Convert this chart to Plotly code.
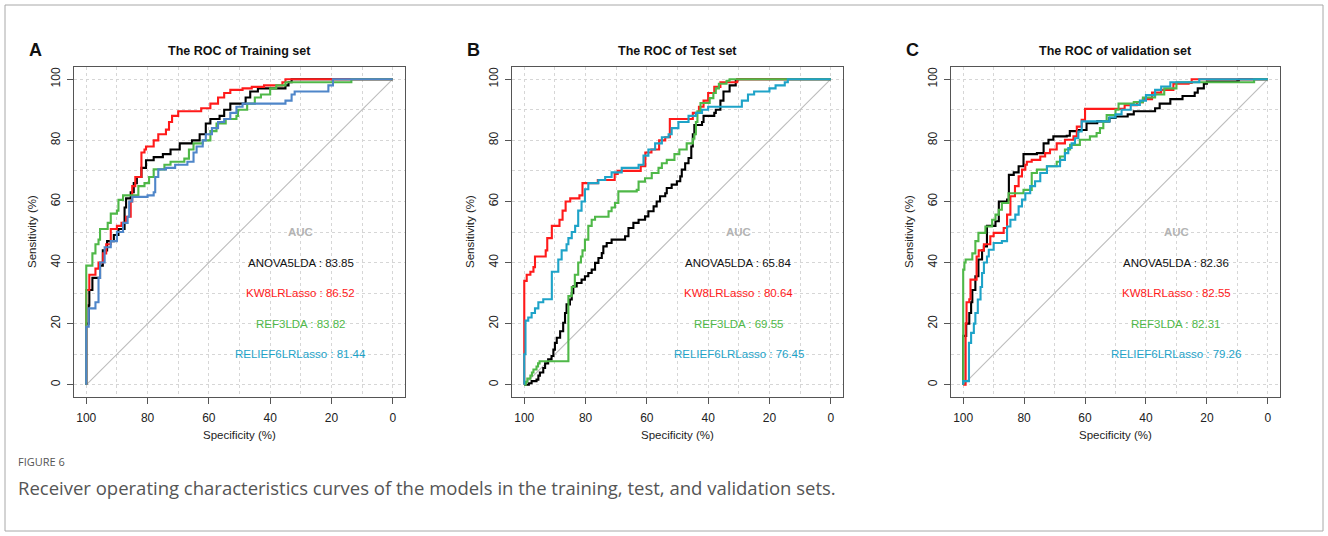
import plotly.graph_objects as go

# ---------------------------------------------------------------------------
# ROC step curves: (specificity %, sensitivity %) corner points
# ---------------------------------------------------------------------------
MODELS = ["ANOVA5LDA", "KW8LRLasso", "REF3LDA", "RELIEF6LRLasso"]

TRAIN_ANOVA = [(100, 0), (100, 20), (99.2, 26), (99, 31), (98, 35), (95.5, 39), (94.6, 44), (93.2, 47),
               (91, 49), (89.5, 51), (87.5, 58), (87, 61), (85.5, 63), (84.5, 66), (83.5, 68), (82, 71),
               (80.5, 73.5), (78, 74.5), (75, 75.5), (72.5, 77), (69.5, 79), (65.5, 80), (63, 82),
               (61, 85.5), (59.5, 87), (56.5, 88), (55, 90), (53, 92), (49, 92), (48, 94), (46.5, 96),
               (44, 97), (36, 97), (35, 98), (34, 99), (33, 100), (0, 100)]
TRAIN_KW = [(100, 0), (100, 31), (99, 36), (97, 38), (96, 40), (94.5, 43), (93.5, 46), (92, 51), (90, 52),
            (88.5, 53), (87, 55), (85.5, 60), (85, 65), (84, 68), (82, 76), (81, 77), (80.5, 78), (78, 80),
            (76.5, 82), (74, 83.5), (73, 86), (72, 88), (70, 89.5), (63.5, 89.5), (62.5, 90.5), (59.5, 92),
            (57, 94), (55, 95.5), (53, 96.5), (49, 97), (46, 97.5), (42, 98), (36, 99), (35, 100), (0, 100)]
TRAIN_REF = [(100, 0), (100, 39), (98, 43), (97, 46), (96, 47.5), (95.5, 51), (93, 53), (92, 56), (90, 57),
             (89.5, 60.5), (88, 62), (84, 62), (83, 65), (81, 66), (79.5, 68), (78, 70.5), (74.5, 72),
             (72.5, 73), (68, 74), (66.5, 77), (65, 79), (62, 80), (59.5, 83), (57.5, 85.5), (54.5, 87),
             (51, 88), (50.5, 90), (47.5, 92), (45, 94), (43, 95), (40, 97), (38, 98), (35, 99), (14, 99),
             (13.5, 100), (0, 100)]
TRAIN_RELIEF = [(100, 0), (100, 19), (99.2, 25), (97, 27), (96, 35), (95.5, 40), (94, 45), (92, 47), (90, 50),
                (88, 53), (86.5, 55), (86, 60), (85, 61.5), (80, 62), (78, 63), (77.5, 68), (76.5, 70.5),
                (74, 71), (71, 72), (67, 73), (65, 76), (64, 78), (62, 80), (61, 82), (59, 84), (57, 86),
                (55, 87), (53, 89), (51, 91), (49, 92), (36, 92), (35, 93), (33, 95), (32, 96), (22, 96),
                (21, 98), (19.5, 100), (0, 100)]

TEST_ANOVA = [(100, 0), (98.5, 0.5), (97.6, 1.2), (96, 1.7), (95.4, 3), (94.9, 4), (93.8, 5.5), (93.2, 7),
              (92.2, 8.3), (91.1, 9.4), (90.5, 11.5), (90, 13.7), (89.4, 15.4), (88.3, 17.5), (87.3, 20.3),
              (86.7, 23.5), (86.2, 26.3), (85.1, 27.9), (84.5, 30), (84, 32.2), (82.9, 33.3), (81.3, 34.4),
              (80.2, 35.5), (79.1, 36.6), (78, 37.7), (76.9, 39.9), (75.8, 41.5), (74.7, 43.1), (74.2, 45.3),
              (73.1, 46.4), (71.5, 47.5), (67.1, 48.6), (66, 51.3), (64.4, 53), (62.7, 54), (60.6, 55.1),
              (59.5, 56.8), (57.8, 58.4), (56.8, 60), (55.7, 61.7), (54, 62.7), (53.5, 64.4), (51.9, 65.5),
              (50.2, 66.6), (49.1, 68.2), (48.6, 70.4), (47.5, 72.5), (46.4, 74.2), (45.5, 78), (45, 82),
              (44.5, 85), (42, 86), (41.5, 88), (38, 89), (37.5, 90), (36, 93), (35, 96), (33, 98),
              (31, 99.5), (30.5, 100), (0, 100)]
TEST_KW = [(100, 0), (100, 10), (100, 34), (99.2, 36), (98, 37), (97, 38.5), (96.5, 42), (93.5, 42), (93, 44),
           (92.5, 48), (91, 52), (89, 52), (88.5, 54), (87.5, 57), (86.5, 60), (85, 61), (82.5, 61), (82, 62),
           (81, 66), (77, 66), (76, 67), (74, 67), (70.5, 69), (69.5, 70), (62, 71.5), (60.5, 76), (58.5, 77),
           (56, 80), (54, 81), (52.5, 87), (46.5, 87), (45, 89), (43, 91), (41.5, 93), (40, 95.5), (38, 97.5),
           (36, 99), (31, 99), (30.5, 100), (0, 100)]
TEST_REF = [(100, 0), (99.5, 1), (99, 2), (98, 3), (97.5, 4), (97, 5), (96, 6), (95.5, 7), (95, 7.7),
            (85.6, 7.7), (85.6, 29), (84.5, 32), (83.5, 36), (82.4, 40), (81.5, 42), (81, 44), (80.2, 47.5),
            (79.1, 52), (78, 54), (76.9, 55), (72.5, 56.8), (71.5, 58), (70.4, 59.5), (69.3, 63.3),
            (63.3, 63.8), (62.7, 66.5), (60.6, 67.6), (58.4, 69.3), (56.2, 71), (55.1, 72.5), (53.5, 73.6),
            (51, 75.5), (49.4, 77), (47, 79), (45, 80.5), (44.5, 82), (44, 86), (43.5, 89.5), (42.5, 92.2),
            (39.5, 93.8), (38.3, 95.5), (37.5, 97), (36.5, 98.5), (34, 99.5), (33, 100), (0, 100)]
TEST_RELIEF = [(100, 0), (100, 10), (99.6, 21), (98.7, 22), (97.6, 23.5), (96.5, 25), (95.4, 27), (93.8, 28),
               (91.1, 28), (91, 37), (89, 37), (88.9, 41), (87.8, 44), (86.2, 46), (85.6, 48), (84.5, 50),
               (83.4, 52), (82.4, 57), (81.3, 60), (80.2, 64), (79.1, 66), (75.8, 67), (73.6, 68),
               (71.5, 69.5), (68.2, 71), (62.7, 72), (61.1, 75), (59.5, 77), (57.3, 79), (55.1, 81),
               (52.9, 82), (51.9, 84), (49.7, 86), (46.4, 88), (44, 89), (42, 90), (40, 91), (30, 91),
               (29, 93), (27, 95), (25, 96), (20, 97), (18, 98), (15, 99), (14, 100), (0, 100)]

VALID_ANOVA = [(100, 0), (100, 16), (99, 20), (98, 23.5), (97.4, 27), (97, 31), (96, 35.5), (95, 41),
               (93.8, 44), (93.2, 45.3), (92.2, 52), (89.4, 53.5), (88.3, 60), (85.6, 60.6), (85, 68.7),
               (83.4, 69.5), (81.8, 71.5), (80.2, 75.5), (75.8, 75.8), (73.6, 79), (72, 80.2), (70.4, 81.3),
               (66, 81.5), (65, 83), (62, 83.4), (59.5, 85.6), (56, 86.2), (52, 87.3), (50, 87.8), (46, 88.5),
               (44, 89.5), (37, 90.5), (35.5, 92), (32, 93.5), (28, 94.5), (24, 95.6), (23, 97), (21, 98.5),
               (20, 99.2), (10, 99.5), (9.5, 100), (0, 100)]
VALID_KW = [(100, 0), (99.2, 10), (99.2, 20), (98.9, 27), (98, 28), (97.6, 34.4), (95.6, 42), (94.9, 44),
            (93.2, 46), (91.1, 48.6), (90, 49.7), (86.7, 51.3), (85.6, 55.7), (84.5, 61.7), (83, 65),
            (81.8, 68.2), (80.7, 70.4), (79.6, 72), (79.1, 73), (77.5, 73.6), (74.7, 74.7), (73.1, 75.8),
            (71.5, 77), (69.3, 79), (66.6, 80.2), (63.8, 81.3), (62.7, 84.5), (61.1, 86.7), (60, 90.3),
            (49.7, 90.3), (47, 91.5), (43, 92.5), (41, 93.5), (38, 95.6), (35, 96.5), (31, 98.5),
            (26, 98.8), (25, 100), (0, 100)]
VALID_REF = [(100, 0), (100, 37.7), (99.6, 40), (99.2, 41), (97, 43), (96, 47), (95, 49.7), (92.7, 51.8),
             (90.5, 54), (89.4, 55.7), (88.3, 57.3), (87.3, 59.5), (85.1, 62.7), (80.2, 63.8), (77.5, 69.3),
             (75.8, 70.4), (72.5, 71.5), (69.3, 73), (68.2, 74.7), (66.6, 77), (64.9, 78.5), (61.7, 80.2),
             (58.4, 81.3), (56.2, 82.4), (55.1, 84), (54, 86.2), (52.9, 88.3), (50, 90), (49, 92),
             (44, 92.5), (41, 94), (37, 95), (34, 97), (30, 99), (5, 99), (4.5, 100), (0, 100)]
VALID_RELIEF = [(100, 0), (100, 1.2), (98.1, 1.2), (98.1, 13.7), (97.4, 17), (96.5, 20), (96, 23.5),
                (95.2, 27.9), (94.3, 32), (93.8, 36.6), (93.2, 40), (92.2, 42), (91.6, 44.2), (90, 46.4),
                (87.3, 47), (85.6, 51.8), (84.5, 54), (82.9, 55.7), (81.8, 58.4), (80.7, 60.6), (79.6, 62.7),
                (78, 65), (76.4, 66.6), (74.7, 69.3), (72.5, 71.5), (68.2, 73.6), (66.6, 75.8), (65.5, 77.5),
                (64.4, 79), (63.3, 80.7), (62.2, 82.9), (61.1, 86.2), (54, 86.2), (52, 87.5), (50, 88.5),
                (48, 90), (45, 91.6), (42, 93), (40, 94.8), (37, 96.5), (35, 97.6), (32, 99), (23, 99),
                (22.5, 100), (0, 100)]

AUC_TRAIN = [83.85, 86.52, 83.82, 81.44]
AUC_TEST = [65.84, 80.64, 69.55, 76.45]
AUC_VALID = [82.36, 82.55, 82.31, 79.26]

PANEL_LETTERS = ["A", "B", "C"]
PANEL_TITLES = ["The ROC of Training set", "The ROC of Test set", "The ROC of validation set"]
AXIS_TICKS = [0, 20, 40, 60, 80, 100]

# ---------------------------------------------------------------------------
W, H = 1328, 536
FONT = "Liberation Sans, Arial, sans-serif"
CAPTION_FONT = "Open Sans, sans-serif"

panels = [
    dict(curves=[TRAIN_ANOVA, TRAIN_KW, TRAIN_REF, TRAIN_RELIEF], auc=AUC_TRAIN,
         line_cols=["#000000", "#ff1a1a", "#4fb848", "#4f86c9"], x0=74, x1=405),
    dict(curves=[TEST_ANOVA, TEST_KW, TEST_REF, TEST_RELIEF], auc=AUC_TEST,
         line_cols=["#000000", "#ff1a1a", "#4fb848", "#1ea3c8"], x0=512, x1=843),
    dict(curves=[VALID_ANOVA, VALID_KW, VALID_REF, VALID_RELIEF], auc=AUC_VALID,
         line_cols=["#000000", "#ff1a1a", "#4fb848", "#1ea3c8"], x0=951, x1=1280),
]
TEXT_COLS = ["#111111", "#ff1a1a", "#4fb848", "#1ea3c8"]
Y0, Y1 = 67, 397  # plot area top/bottom in pixels


def fx(px):
    return px / W


def fy(py):
    return 1 - py / H


def paper_text(px, py, text, font, angle=0, xanchor="center"):
    return dict(x=fx(px), y=fy(py), xref="paper", yref="paper", text=text, showarrow=False,
                xanchor=xanchor, yanchor="middle", textangle=angle, font=font)


fig = go.Figure()
annotations = []

for i, p in enumerate(panels):
    n = "" if i == 0 else str(i + 1)
    xa, ya = "x" + n, "y" + n

    # chance diagonal
    fig.add_trace(go.Scatter(x=[100, 0], y=[0, 100], mode="lines", xaxis=xa, yaxis=ya,
                             line=dict(color="#bcbcbc", width=1.1), showlegend=False, hoverinfo="skip"))
    for name, pts, col in zip(MODELS, p["curves"], p["line_cols"]):
        xs = [a for a, b in pts]
        ys = [b for a, b in pts]
        fig.add_trace(go.Scatter(x=xs, y=ys, mode="lines", name=name, xaxis=xa, yaxis=ya,
                                 line=dict(color=col, width=2.1, shape="hv"), showlegend=False))

    # AUC block
    annotations.append(dict(x=30, y=50, xref=xa, yref=ya, text="<b>AUC</b>", showarrow=False,
                            xanchor="center", yanchor="middle",
                            font=dict(family=FONT, size=11.5, color="#b3b3b3")))
    for k, (name, v) in enumerate(zip(MODELS, p["auc"])):
        annotations.append(dict(x=30, y=40 - 10 * k, xref=xa, yref=ya, text=f"{name} : {v:.2f}",
                                showarrow=False, xanchor="center", yanchor="middle",
                                font=dict(family=FONT, size=11.5, color=TEXT_COLS[k])))

    axis_common = dict(
        tickvals=AXIS_TICKS, ticks="outside", ticklen=6, tickwidth=1, tickcolor="#555555",
        showline=True, mirror=True, linecolor="#555555", linewidth=1.4,
        showgrid=True, gridcolor="#d6d6d6", griddash="dot", gridwidth=1, zeroline=False,
        minor=dict(dtick=10, tick0=0, showgrid=True, gridcolor="#d6d6d6", griddash="dot", ticklen=0),
        tickfont=dict(family=FONT, size=12, color="#222222"),
    )
    fig.layout[("xaxis" + n)] = dict(axis_common, range=[104, -4], domain=[fx(p["x0"]), fx(p["x1"])],
                                     anchor=ya, ticklabelstandoff=3)
    fig.layout[("yaxis" + n)] = dict(axis_common, range=[-4, 104], domain=[fy(Y1), fy(Y0)],
                                     anchor=xa, tickangle=-90, ticklabelstandoff=2)

    cx = (p["x0"] + p["x1"]) / 2
    annotations.append(paper_text(cx, 51, "<b>" + PANEL_TITLES[i] + "</b>",
                                  dict(family=FONT, size=12.5, color="#111111")))
    annotations.append(paper_text(p["x0"] - 39, 50, "<b>" + PANEL_LETTERS[i] + "</b>",
                                  dict(family=FONT, size=18, color="#111111")))
    annotations.append(paper_text(cx, 435, "Specificity (%)",
                                  dict(family=FONT, size=11.5, color="#222222")))
    annotations.append(paper_text(p["x0"] - 42, (Y0 + Y1) / 2, "Sensitivity (%)",
                                  dict(family=FONT, size=11.5, color="#222222"), angle=-90))

annotations.append(paper_text(16, 461, "FIGURE 6", dict(family=CAPTION_FONT, size=11, color="#555555"),
                              xanchor="left"))
annotations.append(paper_text(16, 487,
                              "Receiver operating characteristics curves of the models in the training, test, and validation sets.",
                              dict(family=CAPTION_FONT, size=18.5, color="#555555"), xanchor="left"))

fig.update_layout(
    width=W, height=H, margin=dict(l=0, r=0, t=0, b=0),
    paper_bgcolor="white", plot_bgcolor="white",
    annotations=annotations,
    shapes=[dict(type="rect", xref="paper", yref="paper", x0=fx(5), x1=fx(1323), y0=fy(531), y1=fy(5),
                 line=dict(color="#a8a8a8", width=1))],
)

fig.write_html("out.html")
